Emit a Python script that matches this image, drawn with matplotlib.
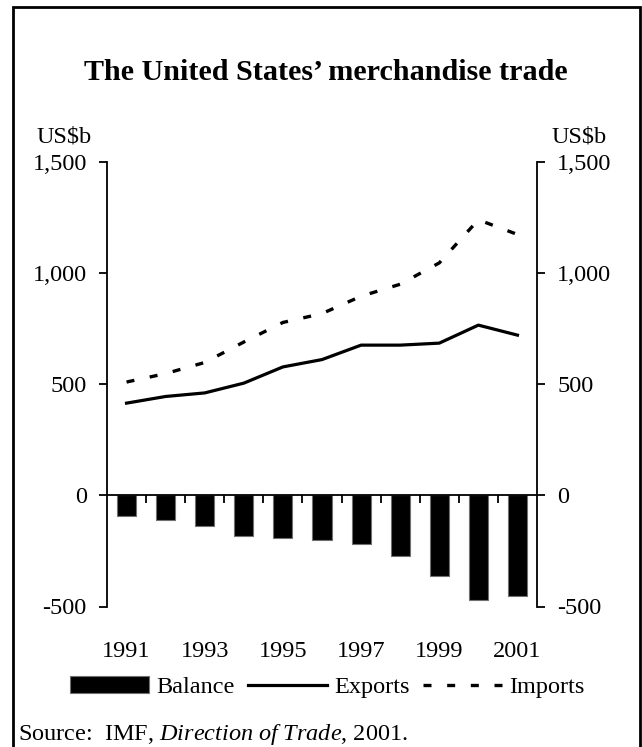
import numpy as np
import matplotlib
matplotlib.use('Agg')
import matplotlib.pyplot as plt
from matplotlib.lines import Line2D
from matplotlib.ticker import FuncFormatter

plt.rcParams['font.family'] = ['Liberation Serif', 'DejaVu Serif']
plt.rcParams['mathtext.fontset'] = 'custom'
plt.rcParams['mathtext.rm'] = 'Liberation Serif'
plt.rcParams['mathtext.it'] = 'Liberation Serif:italic'

# US merchandise trade, US$b
years = np.arange(1991, 2002)
exports = [415, 445, 461, 505, 578, 611, 676, 676, 685, 766, 721]
imports = [510, 548, 598, 690, 778, 818, 896, 950, 1046, 1240, 1174]
balance = [-92, -110, -137, -182, -193, -200, -220, -274, -362, -470, -452]
year_labels = ['1991', '1993', '1995', '1997', '1999', '2001']
y_ticks = [-500, 0, 500, 1000, 1500]

FS = 17.5
W, H = 642, 747

fig = plt.figure(figsize=(W / 100, H / 100), dpi=100)
ax = fig.add_axes([107 / W, 1 - 606.5 / H, 430 / W, 444.5 / H])

bars = ax.bar(years, balance, width=0.49, color='black', edgecolor='#707070', linewidth=0.8, zorder=2)
l_exp, = ax.plot(years, exports, color='black', lw=2.3, zorder=3)
l_imp, = ax.plot(years, imports, color='black', lw=2.4, dashes=(2.4, 4.7), zorder=3)

ax.set_xlim(years[0] - 0.5, years[-1] + 0.5)
ax.set_ylim(-500, 1500)

# spines: left/right only, bottom spine sits on the zero line
ax.spines['top'].set_visible(False)
ax.spines['bottom'].set_position(('data', 0))
for s in ['left', 'right', 'bottom']:
    ax.spines[s].set_linewidth(1.3)

ax.set_yticks(y_ticks)
ax.yaxis.set_major_formatter(FuncFormatter(lambda v, p: f'{v:,.0f}'))
ax.yaxis.set_ticks_position('both')
ax.tick_params(axis='y', direction='out', length=6, width=1.3, labelsize=FS, pad=8.5,
               labelleft=True, labelright=True)

# small ticks between the bars on the zero line
ax.set_xticks(years[:-1] + 0.5)
ax.tick_params(axis='x', direction='out', length=6, width=1.3, labelbottom=False)

# year labels under the plot
secax = ax.secondary_xaxis('bottom')
secax.set_xticks([int(y) for y in year_labels], labels=year_labels)
secax.tick_params(length=0, pad=24.5, labelsize=FS)
secax.spines['bottom'].set_visible(False)

fig.text(325.5 / W, 1 - 80 / H, 'The United States\u2019 merchandise trade',
         ha='center', va='baseline', fontsize=21.7, fontweight='bold')
fig.text(37 / W, 1 - 143 / H, r'US\$b', ha='left', va='baseline', fontsize=FS)
fig.text(607 / W, 1 - 143 / H, r'US\$b', ha='right', va='baseline', fontsize=FS)

fig.legend([bars, l_exp, l_imp], ['Balance', 'Exports', 'Imports'],
           loc='center', bbox_to_anchor=(327.5 / W, 1 - 687 / H), ncol=3, frameon=False,
           fontsize=FS, handlelength=3.25, handletextpad=0.3, columnspacing=0.55,
           borderaxespad=0, borderpad=0)

fig.text(18 / W, 1 - 740 / H, r'Source:  IMF, $\mathit{Direction\ of\ Trade}$, 2001.',
         ha='left', va='baseline', fontsize=FS)

# outer frame, open at the bottom
fx0, fx1, fy = 13.3 / W, 639.5 / W, 1 - 7.2 / H
fig.add_artist(Line2D([fx0, fx0, fx1, fx1], [-0.02, fy, fy, -0.02], transform=fig.transFigure,
                      color='black', lw=2, solid_joinstyle='miter'))

fig.savefig('out.png', dpi=100)
